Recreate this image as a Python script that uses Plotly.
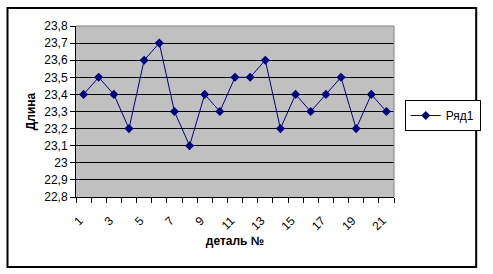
import plotly.graph_objects as go

# Data
details = list(range(1, 22))
lengths = [23.4, 23.5, 23.4, 23.2, 23.6, 23.7, 23.3, 23.1, 23.4, 23.3, 23.5,
           23.5, 23.6, 23.2, 23.4, 23.3, 23.4, 23.5, 23.2, 23.4, 23.3]
series_name = "Ряд1"
x_title = "деталь №"
y_title = "Длина"
x_tick_labels = details[::2]
boundaries = [d - 0.5 for d in details] + [details[-1] + 0.5]

W, H = 493, 274
L, R, T, B = 76, 92, 26, 77
pw, ph = W - L - R, H - T - B

FONT = "Arial, Liberation Sans, sans-serif"

fig = go.Figure()
fig.add_trace(go.Scatter(
    x=details, y=lengths, name=series_name, mode="lines+markers",
    line=dict(color="#000080", width=1),
    marker=dict(symbol="diamond", size=7, color="#000080"),
))

def px_x(px):
    return (px - L) / pw

def px_y(py):
    return (H - B - py) / ph

shapes = [
    dict(type="line", xref="paper", yref="paper", x0=0, x1=1, y0=1, y1=1,
         line=dict(color="#808080", width=1), layer="above"),
    dict(type="line", xref="paper", yref="paper", x0=1, x1=1, y0=0, y1=1,
         line=dict(color="#808080", width=1), layer="above"),
    dict(type="rect", xref="paper", yref="paper",
         x0=px_x(6), x1=px_x(485), y0=px_y(267), y1=px_y(8),
         line=dict(color="black", width=2), fillcolor="rgba(0,0,0,0)"),
]

fig.update_layout(
    width=W, height=H,
    margin=dict(l=L, r=R, t=T, b=B, pad=0),
    paper_bgcolor="white",
    plot_bgcolor="#C0C0C0",
    separators=",.",
    font=dict(family=FONT, size=12, color="black"),
    showlegend=True,
    legend=dict(
        x=px_x(412), y=px_y(100), xanchor="left", yanchor="top",
        bgcolor="white", bordercolor="black", borderwidth=1,
        font=dict(family=FONT, size=12, color="black"),
        itemwidth=30,
    ),
    shapes=shapes,
    xaxis=dict(
        range=[boundaries[0], boundaries[-1]],
        tickmode="array", tickvals=x_tick_labels,
        ticktext=[str(v) for v in x_tick_labels],
        tickangle=-45, ticks="",
        ticklabelstandoff=11, ticklabelshift=-4,
        showgrid=False, zeroline=False,
        showline=True, linecolor="black", linewidth=1,
        tickfont=dict(family=FONT, size=12, color="black"),
        minor=dict(tickmode="array", tickvals=boundaries, ticks="outside",
                   ticklen=5, tickcolor="black", tickwidth=1, showgrid=False),
        title=dict(text="<b>" + x_title + "</b>", standoff=4,
                   font=dict(family=FONT, size=12, color="black")),
    ),
    yaxis=dict(
        range=[22.8, 23.8], dtick=0.1, tick0=22.8,
        ticks="outside", ticklen=5, tickcolor="black", tickwidth=1,
        showgrid=True, gridcolor="black", gridwidth=1,
        zeroline=False,
        showline=True, linecolor="black", linewidth=1,
        tickfont=dict(family=FONT, size=12, color="black"),
        title=dict(text="<b>" + y_title + "</b>", standoff=6,
                   font=dict(family=FONT, size=12, color="black")),
    ),
)

fig.write_html("out.html")
